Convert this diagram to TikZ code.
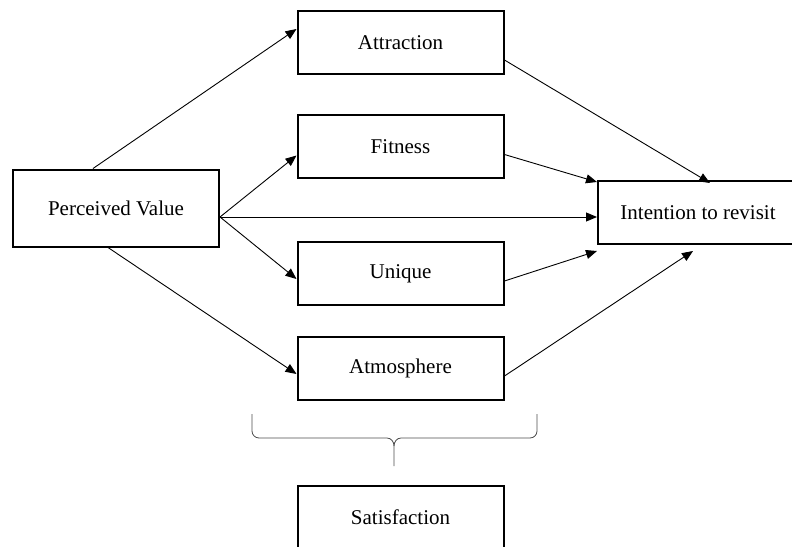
\documentclass[tikz,border=0pt]{standalone}
\usepackage{fontspec}
\setmainfont{Liberation Serif}
\usetikzlibrary{arrows.meta,positioning}

\begin{document}
\begin{tikzpicture}[->, >={Triangle[length=11pt,width=9pt]}, x=1pt, y=-1pt, line width=0.9pt, node distance=39pt, font=\fontsize{21}{25}\selectfont]
\tikzstyle{box}=[draw=black, line width=2pt, minimum width=206pt, minimum height=63pt, inner sep=0pt]

\useasboundingbox (0,0) rectangle (792,546);

\node[box, minimum height=77pt]	(pv)	at (116,208)		{Perceived Value};
\node[box]			(att)	at (400.5,42.5)		{Attraction};
\node[box]			(fit)	[below=of att]		{Fitness};
\node[box]			(uni)	[below=62pt of fit]	{Unique};
\node[box]			(atm)	[below=30pt of uni]	{Atmosphere};
\node[box, minimum width=200pt]	(int)	at (698,212.5)		{Intention to revisit};
\node[box]			(sat)	[below=84pt of atm]	{Satisfaction};

\path
	([xshift=-23pt]pv.north)	edge	([yshift=13.5pt]att.west)
	([yshift=-9pt]pv.east)		edge	([yshift=-9pt]fit.west)
					edge	([yshift=-4.5pt]int.west)
					edge	([yshift=-5.5pt]uni.west)
	([xshift=-8pt]pv.south)		edge	([yshift=-5.5pt]atm.west)
	([yshift=-17.5pt]att.east)	edge	([xshift=12pt,yshift=-3pt]int.north)
	([yshift=-8pt]fit.east)		edge	([yshift=-2pt]int.north west)
	([yshift=-7.5pt]uni.east)	edge	([yshift=-6pt]int.south west)
	([yshift=-7.5pt]atm.east)	edge	([xshift=-5pt,yshift=-6pt]int.south)
;

% brace under the four boxes
\draw[-, line width=0.8pt, black!70] (252,414) -- (252,431) to[out=-90,in=180] (259,438) -- (387,438) to[out=0,in=90] (394,446) -- (394,466);
\draw[-, line width=0.8pt, black!70] (537,414) -- (537,431) to[out=-90,in=0] (530,438) -- (401,438) to[out=180,in=90] (394,446);

\end{tikzpicture}
\end{document}
